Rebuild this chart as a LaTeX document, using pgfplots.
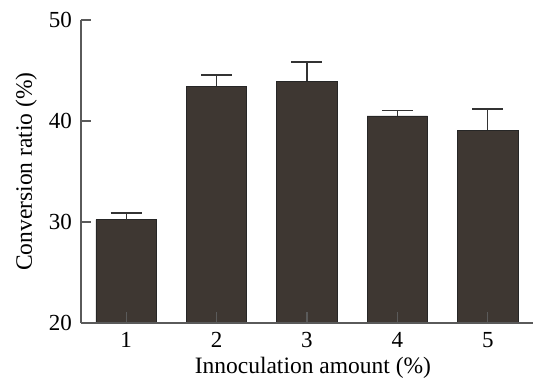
\documentclass[border=0pt]{standalone}
\usepackage{fontspec}
\setmainfont{Liberation Serif}
\usepackage{pgfplots}
\pgfplotsset{compat=1.18}
\definecolor{barfill}{RGB}{62,55,50}
\definecolor{axgray}{RGB}{90,90,90}
\begin{document}
\fontsize{23.5bp}{28bp}\selectfont
\begin{tikzpicture}
\begin{axis}[
  scale only axis, width=452bp, height=303bp,
  xmin=0.5, xmax=5.5, ymin=20, ymax=50,
  axis lines=left, axis line style={-, color=axgray, line width=1.1bp},
  xtick={1,2,3,4,5}, ytick={20,30,40,50},
  tick align=inside, major tick length=10.5bp,
  tick style={color=axgray, line width=1.1bp},
  /pgf/number format/assume math mode=true,
  ticklabel style={font=\fontsize{23bp}{28bp}\selectfont},
  yticklabel style={anchor=east, inner sep=0pt, xshift=-9bp},
  xticklabel style={anchor=north, inner sep=0pt, yshift=-9bp},
  xlabel={Innoculation amount (\%)},
  ylabel={Conversion ratio (\%)},
  label style={font=\fontsize{23.5bp}{28bp}\selectfont},
  xlabel style={at={(axis description cs:0.513,-0.149)}, anchor=center},
  ylabel style={at={(axis description cs:-0.121,0.5)}, anchor=center, rotate=0},
  axis on top=true,
  clip=false,
]
\addplot[ybar, bar width=60.5bp, fill=barfill, draw=black!85, line width=0.8bp,
  error bars/.cd, y dir=plus, y explicit,
  error mark=|, error mark options={mark size=15.5bp, line width=1.3bp, color=black!80},
  error bar style={line width=1.3bp, color=black!80}]
coordinates {
  (1,30.23) +- (0,0.67)
  (2,43.43) +- (0,1.12)
  (3,43.96) +- (0,1.88)
  (4,40.50) +- (0,0.56)
  (5,39.10) +- (0,2.10)
};
\end{axis}
\pgfresetboundingbox
\path[use as bounding box] (-81bp,-57bp) rectangle (453bp,323bp);
\end{tikzpicture}
\end{document}
